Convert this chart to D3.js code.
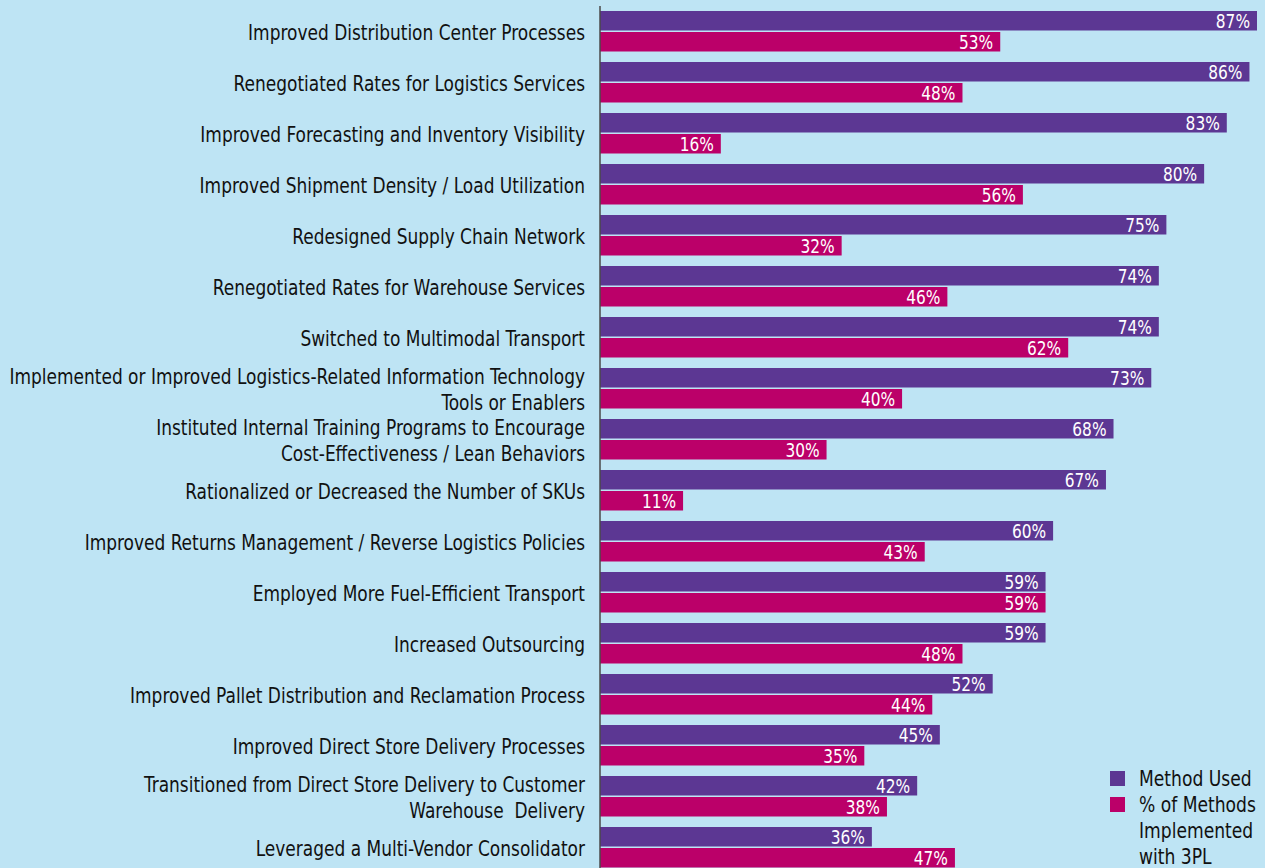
<!DOCTYPE html>
<html lang="en">
<head>
<meta charset="UTF-8">
<title>Cost Reduction Methods</title>
<script src="https://d3js.org/d3.v7.min.js"></script>
<style>
  body { margin: 0; background: #bee4f4; }
  svg { display: block; font-family: "Liberation Sans Narrow", "DejaVu Sans Condensed", sans-serif; }
</style>
</head>
<body>
<div id="chart"></div>
<script>
const categories = [
  ["Improved Distribution Center Processes"],
  ["Renegotiated Rates for Logistics Services"],
  ["Improved Forecasting and Inventory Visibility"],
  ["Improved Shipment Density / Load Utilization"],
  ["Redesigned Supply Chain Network"],
  ["Renegotiated Rates for Warehouse Services"],
  ["Switched to Multimodal Transport"],
  ["Implemented or Improved Logistics-Related Information Technology", "Tools or Enablers"],
  ["Instituted Internal Training Programs to Encourage", "Cost-Effectiveness / Lean Behaviors"],
  ["Rationalized or Decreased the Number of SKUs"],
  ["Improved Returns Management / Reverse Logistics Policies"],
  ["Employed More Fuel-Efficient Transport"],
  ["Increased Outsourcing"],
  ["Improved Pallet Distribution and Reclamation Process"],
  ["Improved Direct Store Delivery Processes"],
  ["Transitioned from Direct Store Delivery to Customer", "Warehouse  Delivery"],
  ["Leveraged a Multi-Vendor Consolidator"]
];
const methodUsed = [87, 86, 83, 80, 75, 74, 74, 73, 68, 67, 60, 59, 59, 52, 45, 42, 36];
const with3PL = [53, 48, 16, 56, 32, 46, 62, 40, 30, 11, 43, 59, 48, 44, 35, 38, 47];
const seriesNames = ["Method Used", "% of Methods", "Implemented", "with 3PL"];

const width = 1265, height = 868;
const colors = ["#5c3793", "#bb0069"];
const x0 = 600;
const squeeze = 0.9; // condensed look

const svg = d3.select("#chart").append("svg")
  .attr("width", width).attr("height", height);

svg.append("rect").attr("width", width).attr("height", height).attr("fill", "#bee4f4");

const x = d3.scaleLinear().domain([0, 87]).range([x0, 1257]);
const y = d3.scaleBand().domain(d3.range(categories.length))
  .range([6, 6 + 51 * categories.length]).paddingInner(0).paddingOuter(0);

const barH = 19.5;

const rows = svg.selectAll("g.row").data(categories).enter().append("g")
  .attr("class", "row")
  .attr("transform", (d, i) => `translate(0,${y(i)})`);

// bars
[methodUsed, with3PL].forEach((vals, s) => {
  rows.append("rect")
    .attr("x", x(0))
    .attr("y", 5 + s * 21)
    .attr("width", (d, i) => x(vals[i]) - x(0))
    .attr("height", barH)
    .attr("fill", colors[s]);
  rows.append("text")
    .attr("transform", (d, i) => `translate(${x(vals[i]) - 7},${5 + s * 21 + barH / 2}) scale(${squeeze},1)`)
    .attr("dominant-baseline", "central")
    .attr("text-anchor", "end")
    .attr("fill", "#fff")
    .attr("font-size", 19)
    .text((d, i) => vals[i] + "%");
});

// category labels
rows.each(function(d) {
  const g = d3.select(this);
  const lh = 25.5;
  const start = 26.5 - (d.length - 1) * lh / 2;
  d.forEach((line, k) => {
    g.append("text")
      .attr("transform", `translate(585,${start + k * lh}) scale(0.9,1)`)
      .attr("text-anchor", "end")
      .attr("dominant-baseline", "central")
      .attr("font-size", 21)
      .attr("fill", "#111")
      .attr("xml:space", "preserve")
      .text(line);
  });
});

// axis line
svg.append("line")
  .attr("x1", x0).attr("x2", x0)
  .attr("y1", 6).attr("y2", height)
  .attr("stroke", "#4a4a4a").attr("stroke-width", 1.5);

// legend
const legend = svg.append("g").attr("transform", "translate(1110,770)");
[0, 1].forEach(s => {
  legend.append("rect")
    .attr("x", 0).attr("y", s * 26 + 1)
    .attr("width", 15).attr("height", 15)
    .attr("fill", colors[s]);
});
seriesNames.forEach((name, k) => {
  legend.append("text")
    .attr("transform", `translate(29,${9 + k * 26}) scale(0.93,1)`)
    .attr("dominant-baseline", "central")
    .attr("font-size", 20.5)
    .attr("fill", "#111")
    .text(name);
});
</script>
</body>
</html>
